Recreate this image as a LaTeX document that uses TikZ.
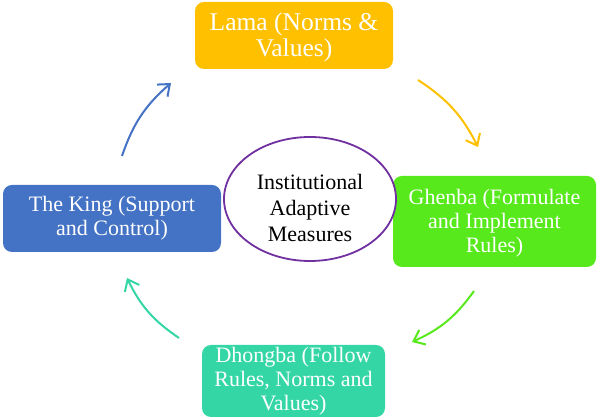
\documentclass[tikz,border=0pt]{standalone}
\usepackage{fontspec}
\setmainfont{Liberation Serif}
\newfontfamily\tnr{Liberation Serif}
\usetikzlibrary{shapes.geometric,arrows.meta}
\definecolor{cOrange}{HTML}{FFC000}
\definecolor{cGreen}{HTML}{57E91C}
\definecolor{cBlue}{HTML}{4472C4}
\definecolor{cTeal}{HTML}{33D6A4}
\definecolor{cPurple}{HTML}{7030A0}
\tikzset{
  boxnode/.style={rectangle, rounded corners=9pt, fill=#1, align=center, inner sep=0pt},
  boxtext/.style={text=white, align=center, inner sep=0pt, font=\tnr\fontsize{22}{24}\selectfont},
  centernode/.style={ellipse, draw=cPurple, line width=1.8pt, fill=white, inner sep=0pt},
  centertext/.style={align=center, inner sep=0pt, font=\tnr\fontsize{22}{26}\selectfont},
  cyclearrow/.style={line width=2pt, -{Straight Barb[length=10pt,width=16pt,line width=2pt]}, bend left=15}
}
\begin{document}
\begin{tikzpicture}[x=1pt,y=1pt]
\useasboundingbox (0,0) rectangle (598,419);
\node[boxnode=cOrange, minimum width=198pt, minimum height=67pt] (lama) at (294,383.5) {};
\node[boxtext, font=\tnr\fontsize{25.5}{26}\selectfont] (lamatext) at ([yshift=-2pt]lama.center) {Lama (Norms \&\\Values)};
\node[boxnode=cGreen, minimum width=203pt, minimum height=91pt] (ghenba) at (494.5,197.5) {};
\node[boxtext] (ghenbatext) at ([yshift=-2pt]ghenba.center) {Ghenba (Formulate\\and Implement\\Rules)};
\node[boxnode=cBlue, minimum width=218pt, minimum height=67pt] (king) at (112,200.5) {};
\node[boxtext] (kingtext) at (king.center) {The King (Support\\and Control)};
\node[boxnode=cTeal, minimum width=183pt, minimum height=72pt] (dhongba) at (293.5,38) {};
\node[boxtext] (dhongbatext) at (dhongba.center) {Dhongba (Follow\\Rules, Norms and\\Values)};
\node[centernode, minimum width=172pt, minimum height=124pt] (center) at (310,220) {};
\node[centertext] (centerlabel) at ([yshift=-9pt]center.center) {Institutional\\Adaptive\\Measures};
\coordinate (bS) at (122,263); \coordinate (bE) at (171,336);
\coordinate (yS) at (418,339); \coordinate (yE) at (478,272);
\coordinate (gS) at (474,128); \coordinate (gE) at (412,77);
\coordinate (tS) at (179,81);  \coordinate (tE) at (127,141);
\draw[cyclearrow, draw=cBlue] (bS) to (bE);
\draw[cyclearrow, draw=cOrange] (yS) to (yE);
\draw[cyclearrow, draw=cGreen] (gS) to (gE);
\draw[cyclearrow, draw=cTeal] (tS) to (tE);
\end{tikzpicture}
\end{document}
